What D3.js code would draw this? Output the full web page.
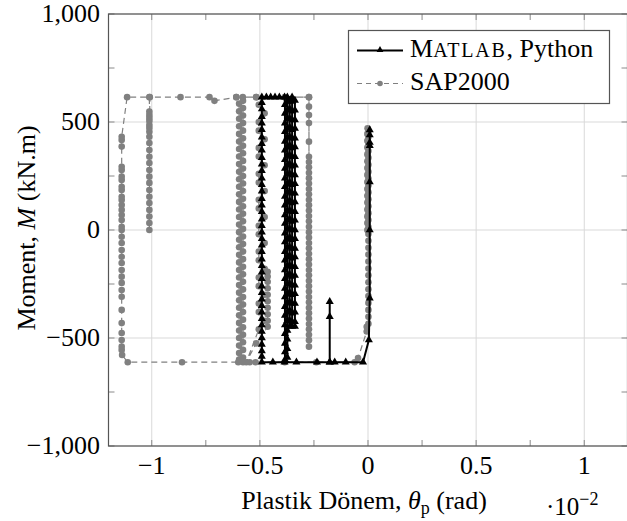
<!DOCTYPE html>
<html lang="en">
<head>
<meta charset="utf-8">
<title>Moment - Plastik Donem</title>
<script src="https://d3js.org/d3.v7.min.js"></script>
<style>
  body { margin: 0; background: #fff; }
  text { font-family: "Liberation Serif", "DejaVu Serif", serif; fill: #000; }
</style>
</head>
<body>
<script>
// sizes
const width = 627, height = 521;
const plot = {left: 108.5, right: 627.5, top: 14, bottom: 446};
const tickLen = 6;

// axis ticks (theta in 1e-2 rad, moment in kN.m)
const xMajor = [-1, -0.5, 0, 0.5, 1];
const xAllTicks = [-1, -0.75, -0.5, -0.25, 0, 0.25, 0.5, 0.75, 1];
const xTickLabels = ["\u22121", "\u22120.5", "0", "0.5", "1"];
const yMajor = [-1000, -500, 0, 500, 1000];
const yAllTicks = [-1000, -750, -500, -250, 0, 250, 500, 750, 1000];
const yTickLabels = ["\u22121,000", "\u2212500", "0", "500", "1,000"];

// SAP2000 path, in order [theta, M]
const sapZeroCol = [[-0.003,0],[-0.003,32],[-0.003,63],[-0.003,95],[-0.003,127],[-0.003,158],[-0.003,190],[-0.003,222],[-0.003,255],[-0.003,287],[-0.003,318],[-0.003,350],[-0.003,382],[-0.003,413],[-0.003,445],[-0.002,471],
  [0.002,456],[0.002,430],[0.002,398],[0.002,366],[0.002,334],[0.002,302],[0.002,270],[0.002,238],[0.002,206],[0.002,174],[0.002,142],[0.002,110],[0.002,78],[0.002,46],[0.002,14],[0.002,-18],[0.002,-50],[0.002,-82],[0.002,-114],[0.002,-146],[0.002,-178],[0.002,-210],[0.002,-242],[0.002,-274],[0.002,-306],[0.002,-338],[0.002,-370],[0.002,-402],[0.002,-434],[-0.006,-448],[-0.006,-470]];
const sapBottom1 = [[-0.046,-593],[-0.062,-612],[-0.239,-612],[-0.385,-612],[-0.52,-612],[-0.547,-612],[-0.578,-612]];
const sapCol1 = [[-0.578,-590],[-0.578,-555],[-0.578,-520],[-0.578,-485],[-0.578,-450],[-0.578,-415],[-0.578,-380],[-0.578,-345],[-0.578,-310],[-0.578,-275],[-0.578,-240],[-0.578,-205],[-0.578,-170],[-0.578,-135],[-0.578,-100],[-0.578,-65],[-0.578,-30],[-0.578,5],[-0.578,40],[-0.578,75],[-0.578,110],[-0.578,145],[-0.578,180],[-0.578,215],[-0.578,250],[-0.578,285],[-0.578,320],[-0.578,355],[-0.578,390],[-0.578,425],[-0.578,460],[-0.578,495],[-0.578,530],[-0.578,565],[-0.578,598],[-0.579,615]];
const sapTop1 = [[-0.517,615],[-0.385,615],[-0.273,615]];
const sapCol2 = [[-0.273,571],[-0.273,532],[-0.273,495],[-0.273,409],[-0.273,339],[-0.273,315],[-0.273,290],[-0.273,265],[-0.273,240],[-0.273,215],[-0.273,190],[-0.273,165],[-0.273,140],[-0.273,115],[-0.273,90],[-0.273,65],[-0.273,40],[-0.273,15],[-0.273,-10],[-0.273,-35],[-0.273,-60],[-0.273,-85],[-0.273,-110],[-0.273,-135],[-0.273,-160],[-0.273,-185],[-0.273,-210],[-0.273,-235],[-0.273,-260],[-0.273,-285],[-0.273,-310],[-0.273,-335],[-0.273,-360],[-0.273,-385],[-0.273,-410],[-0.273,-435],[-0.273,-460],[-0.273,-485],[-0.273,-510],[-0.273,-540],[-0.273,615],[-0.609,615]];
const sapCol3 = [[-0.596,585],[-0.596,550],[-0.596,515],[-0.596,480],[-0.596,445],[-0.596,410],[-0.596,375],[-0.596,340],[-0.596,305],[-0.596,270],[-0.596,235],[-0.596,200],[-0.596,165],[-0.596,130],[-0.596,95],[-0.596,60],[-0.596,25],[-0.596,-10],[-0.596,-45],[-0.596,-80],[-0.596,-115],[-0.596,-150],[-0.596,-185],[-0.596,-220],[-0.596,-255],[-0.596,-290],[-0.596,-325],[-0.596,-360],[-0.596,-395],[-0.596,-430],[-0.596,-465],[-0.596,-500],[-0.596,-535],[-0.596,-570],[-0.596,-600],[-0.6,-612]];
const sapBottom2 = [[-0.86,-612],[-1.111,-612]];
const sapCol4 = [[-1.137,-579],[-1.139,-556],[-1.139,-540],[-1.139,-509],[-1.139,-477],[-1.139,-431],[-1.139,-370],[-1.139,-309],[-1.139,-278],[-1.139,-245],[-1.139,-216],[-1.139,-185],[-1.139,-153],[-1.139,-124],[-1.139,-93],[-1.139,-60],[-1.139,-31],[-1.139,0],[-1.139,15],[-1.139,46],[-1.139,69],[-1.139,93],[-1.139,116],[-1.139,139],[-1.139,154],[-1.139,185],[-1.139,200],[-1.139,231],[-1.139,247],[-1.139,278],[-1.139,293],[-1.139,386],[-1.139,417],[-1.139,432]];
const sapTop2 = [[-1.114,615],[-1.011,615]];
const sapCol5 = [[-1.011,548],[-1.011,532],[-1.011,519],[-1.011,505],[-1.011,486],[-1.011,472],[-1.011,455],[-1.011,432],[-1.011,403],[-1.011,370],[-1.011,339],[-1.011,310],[-1.011,278],[-1.011,247],[-1.011,218],[-1.011,185],[-1.011,154],[-1.011,125],[-1.011,93],[-1.011,62],[-1.011,32],[-1.011,0],[-1.009,615]];
const sapTop3 = [[-0.867,615],[-0.733,615],[-0.71,598],[-0.609,615],[-0.517,615]];
const sapCol6 = [[-0.505,580],[-0.478,540],[-0.505,500],[-0.505,460],[-0.478,420],[-0.505,380],[-0.505,340],[-0.478,300],[-0.505,260],[-0.505,220],[-0.478,180],[-0.505,140],[-0.505,100],[-0.478,60],[-0.505,20],[-0.505,-20],[-0.478,-60],[-0.505,-100],[-0.505,-140],[-0.478,-180],[-0.505,-220],[-0.505,-260],[-0.478,-300],[-0.505,-340],[-0.505,-380],[-0.478,-420],[-0.505,-460]];
const sapCol7 = [[-0.563,-612],[-0.517,-525],[-0.464,-448],[-0.464,-420],[-0.464,-390],[-0.464,-360],[-0.464,-330],[-0.464,-300],[-0.464,-270],[-0.464,-240],[-0.464,-215],[-0.464,-193]];

// MATLAB, Python path, in order [theta, M]
const matZeroCol = [[0.008,0],[0.008,223],[0.008,390],[0.008,405],[0.008,440],[0.008,463],[0.008,-316],[0.004,-509],[-0.023,-612]];
const matBottom = [[-0.103,-612],[-0.154,-612],[-0.177,-612],[-0.177,-401],[-0.177,-332],[-0.177,-612],[-0.236,-612],[-0.331,-612],[-0.386,-612],[-0.44,-612],[-0.491,-612]];
const matCol1 = [[-0.491,-585],[-0.491,-560],[-0.491,-530],[-0.491,-500],[-0.491,-470],[-0.491,-440],[-0.491,-410],[-0.491,-380],[-0.491,-350],[-0.491,-320],[-0.491,-290],[-0.491,-260],[-0.491,-225],[-0.491,-195],[-0.491,-165],[-0.491,-135],[-0.491,-100],[-0.491,-70],[-0.491,-40],[-0.491,-10],[-0.491,20],[-0.491,50],[-0.491,85],[-0.491,115],[-0.491,145],[-0.491,180],[-0.491,210],[-0.491,240],[-0.491,275],[-0.491,305],[-0.491,335],[-0.491,370],[-0.491,400],[-0.491,430],[-0.491,465],[-0.491,495],[-0.491,525],[-0.491,560],[-0.491,590],[-0.491,615]];
const matTop = [[-0.47,615],[-0.45,615],[-0.43,615],[-0.41,615],[-0.386,615]];
const matColA = [[-0.384,580],[-0.384,540],[-0.384,495],[-0.384,455],[-0.384,410],[-0.384,370],[-0.384,325],[-0.384,285],[-0.384,240],[-0.384,200],[-0.384,155],[-0.384,115],[-0.384,70],[-0.384,30],[-0.384,-15],[-0.384,-55],[-0.384,-100],[-0.384,-140],[-0.384,-185],[-0.384,-225],[-0.384,-270],[-0.384,-310],[-0.384,-355],[-0.384,-395],[-0.384,-440],[-0.384,-480],[-0.384,-525],[-0.384,-565],[-0.384,-600]];
const matColB = [[-0.373,-590],[-0.373,-550],[-0.373,-505],[-0.373,-465],[-0.373,-420],[-0.373,-380],[-0.373,-335],[-0.373,-295],[-0.373,-250],[-0.373,-210],[-0.373,-165],[-0.373,-125],[-0.373,-80],[-0.373,-40],[-0.373,5],[-0.373,45],[-0.373,90],[-0.373,130],[-0.373,175],[-0.373,215],[-0.373,260],[-0.373,300],[-0.373,345],[-0.373,385],[-0.373,430],[-0.373,470],[-0.373,515],[-0.373,555],[-0.373,595],[-0.373,615]];
const matColC = [[-0.362,600],[-0.362,560],[-0.362,515],[-0.362,475],[-0.362,430],[-0.362,390],[-0.362,345],[-0.362,305],[-0.362,260],[-0.362,220],[-0.362,175],[-0.362,135],[-0.362,90],[-0.362,50],[-0.362,5],[-0.362,-35],[-0.362,-80],[-0.362,-120],[-0.362,-165],[-0.362,-205],[-0.362,-250],[-0.362,-290],[-0.362,-335],[-0.362,-375],[-0.362,-420],[-0.362,-447],[-0.351,-447]];
const matColD = [[-0.351,-425],[-0.351,-385],[-0.351,-340],[-0.351,-300],[-0.351,-255],[-0.351,-215],[-0.351,-170],[-0.351,-130],[-0.351,-85],[-0.351,-45],[-0.351,0],[-0.351,40],[-0.351,85],[-0.351,125],[-0.351,170],[-0.351,210],[-0.351,255],[-0.351,295],[-0.351,340],[-0.351,380],[-0.351,425],[-0.351,465],[-0.351,510],[-0.351,550],[-0.351,595],[-0.351,615]];
const matColE = [[-0.338,600],[-0.338,555],[-0.338,510],[-0.338,470],[-0.338,425],[-0.338,385],[-0.338,340],[-0.338,300],[-0.338,255],[-0.338,215],[-0.338,170],[-0.338,130],[-0.338,85],[-0.338,45],[-0.338,0],[-0.338,-40],[-0.338,-85],[-0.338,-125],[-0.338,-170],[-0.338,-210],[-0.338,-255],[-0.338,-295],[-0.338,-340],[-0.338,-380],[-0.338,-425],[-0.338,-447]];

const sapData = [].concat(sapZeroCol, sapBottom1, sapCol1, sapTop1, sapCol2, sapCol3, sapBottom2, sapCol4, sapTop2, sapCol5, sapTop3, sapCol6, sapCol7);
const matData = [].concat(matZeroCol, matBottom, matCol1, matTop, matColA, matColB, matColC, matColD, matColE);

// scales
const x = d3.scaleLinear().domain([-1.2, 1.2]).range([plot.left, plot.right]);
const y = d3.scaleLinear().domain([-1000, 1000]).range([plot.bottom, plot.top]);

const svg = d3.select("body").append("svg")
    .attr("width", width)
    .attr("height", height);

// grid
svg.append("g").selectAll("line").data(xMajor).enter().append("line")
    .attr("x1", d => x(d)).attr("x2", d => x(d))
    .attr("y1", plot.top).attr("y2", plot.bottom)
    .attr("stroke", "#d9d9d9").attr("stroke-width", 1);
svg.append("g").selectAll("line").data(yMajor).enter().append("line")
    .attr("x1", plot.left).attr("x2", plot.right)
    .attr("y1", d => y(d)).attr("y2", d => y(d))
    .attr("stroke", "#d9d9d9").attr("stroke-width", 1);

// tick marks on all four sides, pointing in
const ticks = svg.append("g").attr("stroke", "#8a8a8a").attr("stroke-width", 1);
xAllTicks.forEach(t => {
    ticks.append("line").attr("x1", x(t)).attr("x2", x(t)).attr("y1", plot.bottom).attr("y2", plot.bottom - tickLen);
    ticks.append("line").attr("x1", x(t)).attr("x2", x(t)).attr("y1", plot.top).attr("y2", plot.top + tickLen);
});
yAllTicks.forEach(t => {
    ticks.append("line").attr("y1", y(t)).attr("y2", y(t)).attr("x1", plot.left).attr("x2", plot.left + tickLen);
    ticks.append("line").attr("y1", y(t)).attr("y2", y(t)).attr("x1", plot.right).attr("x2", plot.right - tickLen);
});

// data lines
const line = d3.line().x(d => x(d[0])).y(d => y(d[1]));

// SAP2000 (gray dashed, circles)
svg.append("path").datum(sapData)
    .attr("d", line)
    .attr("fill", "none")
    .attr("stroke", "#808080")
    .attr("stroke-width", 1.2)
    .attr("stroke-dasharray", "6,4");
svg.append("g").selectAll("circle").data(sapData).enter().append("circle")
    .attr("cx", d => x(d[0]))
    .attr("cy", d => y(d[1]))
    .attr("r", 3.3)
    .attr("fill", "#808080");

// MATLAB, Python (black, triangles)
svg.append("path").datum(matData)
    .attr("d", line)
    .attr("fill", "none")
    .attr("stroke", "#000")
    .attr("stroke-width", 2)
    .attr("stroke-linejoin", "round");
const tri = d3.symbol().type(d3.symbolTriangle).size(28);
svg.append("g").selectAll("path").data(matData).enter().append("path")
    .attr("d", tri)
    .attr("transform", d => "translate(" + x(d[0]) + "," + y(d[1]) + ")")
    .attr("fill", "#000");

// frame
svg.append("rect")
    .attr("x", plot.left).attr("y", plot.top)
    .attr("width", plot.right - plot.left).attr("height", plot.bottom - plot.top)
    .attr("fill", "none").attr("stroke", "#555").attr("stroke-width", 1.2);

// tick labels
svg.append("g").selectAll("text").data(xMajor).enter().append("text")
    .attr("x", d => x(d))
    .attr("y", 474)
    .attr("text-anchor", "middle")
    .attr("font-size", "26px")
    .text((d, i) => xTickLabels[i]);
svg.append("g").selectAll("text").data(yMajor).enter().append("text")
    .attr("x", 100)
    .attr("y", d => y(d) + 8)
    .attr("text-anchor", "end")
    .attr("font-size", "26px")
    .text((d, i) => yTickLabels[i]);

// axis titles
const xTitle = svg.append("text")
    .attr("x", 364)
    .attr("y", 509)
    .attr("text-anchor", "middle")
    .attr("font-size", "26px");
xTitle.append("tspan").text("Plastik Dönem, ");
xTitle.append("tspan").attr("font-style", "italic").text("\u03b8");
xTitle.append("tspan").attr("font-size", "18px").attr("dy", 5).text("p");
xTitle.append("tspan").attr("dy", -5).text(" (rad)");

const yTitle = svg.append("text")
    .attr("transform", "translate(35,228) rotate(-90)")
    .attr("text-anchor", "middle")
    .attr("font-size", "26px");
yTitle.append("tspan").text("Moment, ");
yTitle.append("tspan").attr("font-style", "italic").text("M");
yTitle.append("tspan").text(" (kN.m)");

// exponent
const expo = svg.append("text").attr("x", 546).attr("y", 515).attr("font-size", "25px");
expo.append("tspan").text("\u00b710");
expo.append("tspan").attr("font-size", "18px").attr("dy", -10).text("\u22122");

// legend
const legend = svg.append("g");
legend.append("rect")
    .attr("x", 348.5).attr("y", 30.5).attr("width", 261).attr("height", 73)
    .attr("fill", "#fff").attr("stroke", "#555").attr("stroke-width", 1.2);
legend.append("line").attr("x1", 357).attr("x2", 403).attr("y1", 50.5).attr("y2", 50.5)
    .attr("stroke", "#000").attr("stroke-width", 2);
legend.append("path").attr("d", d3.symbol().type(d3.symbolTriangle).size(20)).attr("transform", "translate(380,50)").attr("fill", "#000");
legend.append("line").attr("x1", 357).attr("x2", 403).attr("y1", 83.5).attr("y2", 83.5)
    .attr("stroke", "#808080").attr("stroke-width", 1.2).attr("stroke-dasharray", "5,4");
legend.append("circle").attr("cx", 380).attr("cy", 83.5).attr("r", 2.8).attr("fill", "#808080");

const l1 = legend.append("text").attr("x", 410).attr("y", 57).attr("font-size", "26px");
l1.append("tspan").text("M");
l1.append("tspan").attr("font-size", "20px").attr("letter-spacing", "1.8px").text("ATLAB");
l1.append("tspan").text(", Python");
legend.append("text").attr("x", 410).attr("y", 89.5).attr("font-size", "26px").text("SAP2000");
</script>
</body>
</html>
